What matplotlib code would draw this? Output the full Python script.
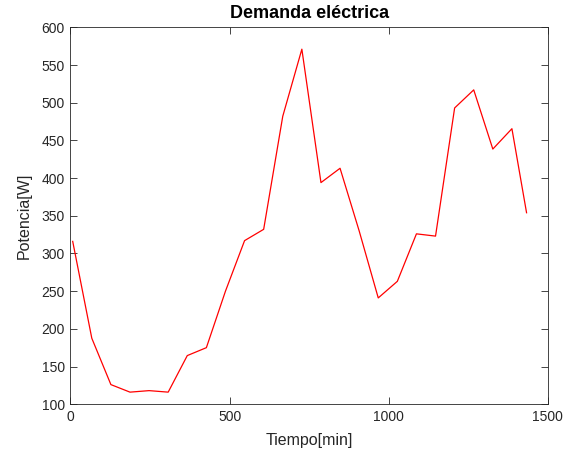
import numpy as np
import matplotlib
matplotlib.use("Agg")
import matplotlib.pyplot as plt

# demand curve (minutes, watts)
tiempo = [7, 67, 127, 187, 247, 307, 367, 427, 487, 547, 607, 667, 727,
          787, 847, 907, 967, 1027, 1087, 1147, 1207, 1267, 1327, 1387, 1433]
potencia = [316, 187.5, 126, 116, 118, 116, 164.5, 175, 250, 317, 332, 482, 571,
            394, 413, 330, 241, 263, 326, 323, 493, 517, 438.5, 465.5, 354]

plt.rcParams['font.family'] = ['Liberation Sans', 'DejaVu Sans']

fig = plt.figure(figsize=(5.81, 4.63), dpi=100)
ax = fig.add_axes([0.1213, 0.127, 0.8217, 0.814])

ax.plot(tiempo, potencia, color='#ff0000', linewidth=0.9)

ax.set_xlim(0, 1500)
ax.set_ylim(100, 600)
ax.set_xticks([0, 500, 1000, 1500])
ax.set_yticks(np.arange(100, 601, 50))

ax.tick_params(direction='in', top=True, right=True, length=5, width=0.6,
               labelsize=10, colors='#262626', pad=4)
for s in ax.spines.values():
    s.set_linewidth(0.6)
    s.set_color('#262626')

ax.set_title('Demanda eléctrica', fontsize=13, fontweight='bold', pad=7)
ax.set_xlabel('Tiempo[min]', fontsize=11.5, color='#262626', labelpad=7)
ax.set_ylabel('Potencia[W]', fontsize=11.5, color='#262626', labelpad=7)

fig.savefig('out.png', dpi=100)
